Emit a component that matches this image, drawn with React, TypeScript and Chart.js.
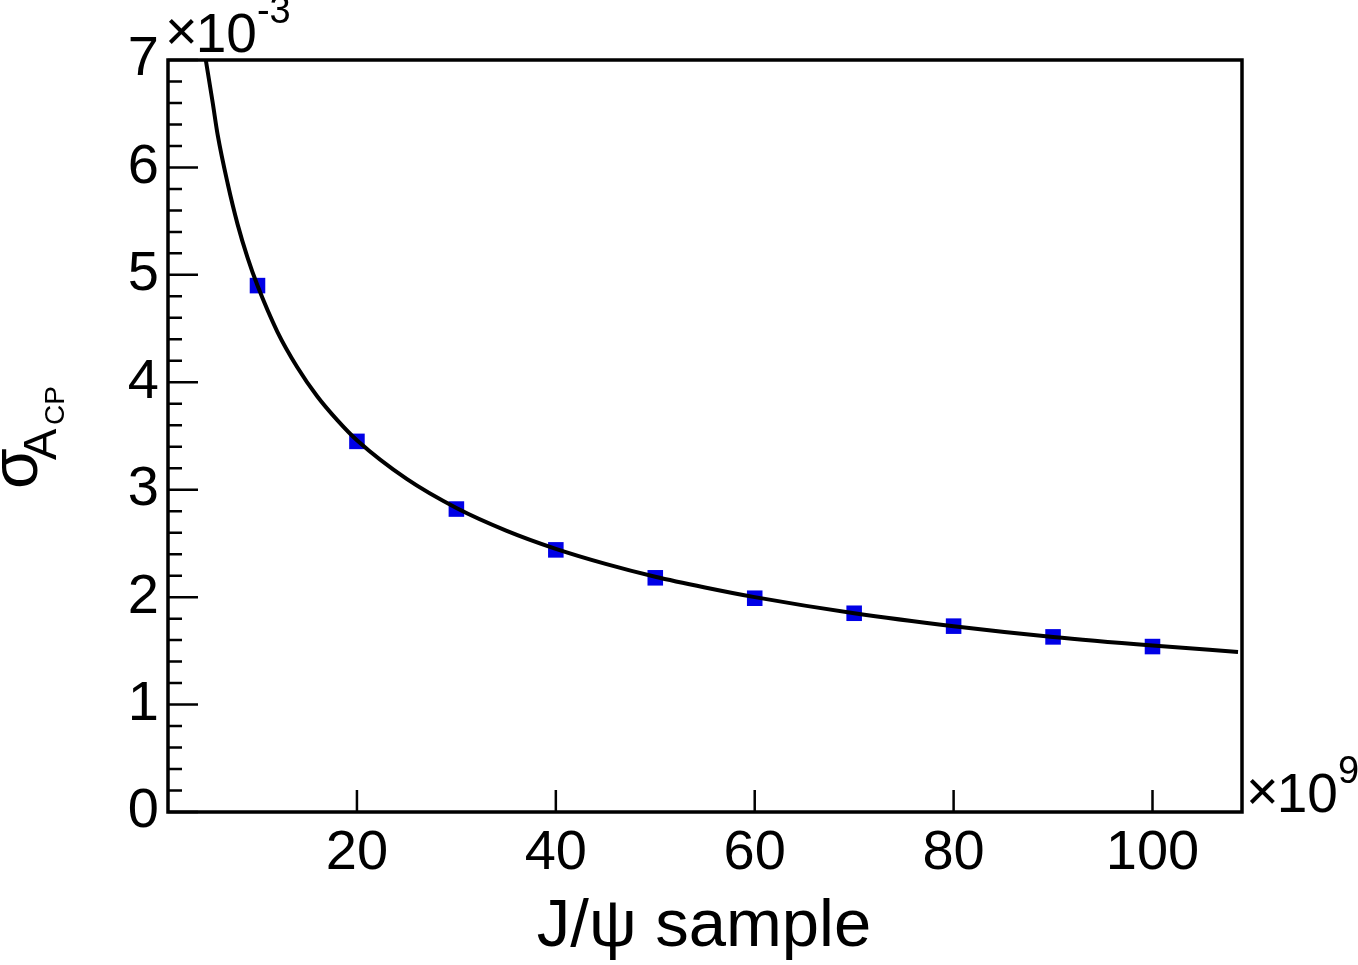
import React, { useEffect, useRef } from 'react';
import { Chart, registerables, Plugin } from 'chart.js';

Chart.register(...registerables);

// measured points (x in units of 10^9 J/psi events, y in units of 10^-3)
const sampleX = [10, 20, 30, 40, 50, 60, 70, 80, 90, 100];
const sigmaY = [4.9, 3.45, 2.82, 2.44, 2.18, 1.99, 1.85, 1.73, 1.63, 1.54];

// fitted curve
const fitX = [4.8, 5.5, 6, 7, 8, 9, 10, 12, 14, 16, 18, 20, 25, 30, 35, 40, 45, 50, 55, 60, 70, 80, 90, 100, 108.6];
const fitY = [7.0, 6.6, 6.3, 5.85, 5.47, 5.16, 4.9, 4.47, 4.14, 3.87, 3.65, 3.46, 3.1, 2.83, 2.62, 2.45, 2.31, 2.19, 2.09, 2.0, 1.85, 1.73, 1.63, 1.55, 1.49];

const xTicks = [20, 40, 60, 80, 100];
const yTicks = [0, 1, 2, 3, 4, 5, 6, 7];

const FONT = '"Liberation Sans", Arial, Helvetica, sans-serif';

// "×10^n" drawn the way ROOT does it
function drawExponent(ctx: CanvasRenderingContext2D, x: number, base: number, exp: string) {
    ctx.font = `56px ${FONT}`;
    ctx.fillText('\u00d7', x, base - 2);
    const wx = ctx.measureText('\u00d7').width;
    ctx.font = `55px ${FONT}`;
    const x10 = x + wx - 2;
    ctx.fillText('10', x10, base);
    const w10 = ctx.measureText('10').width;
    ctx.font = `38px ${FONT}`;
    ctx.fillText(exp, x10 + w10, base - 29);
}

const rootFrame: Plugin = {
    id: 'rootFrame',
    afterDraw(chart) {
        const { ctx, chartArea: a, scales } = chart;
        const xs = scales.x;
        const ys = scales.y;
        ctx.save();
        ctx.strokeStyle = '#000';
        ctx.fillStyle = '#000';

        // inward ticks, ROOT style
        ctx.lineWidth = 2.5;
        ctx.beginPath();
        for (let i = 0; i <= 35; i++) {
            const py = ys.getPixelForValue(i * 0.2);
            const len = i % 5 === 0 ? 30 : 14;
            ctx.moveTo(a.left, py);
            ctx.lineTo(a.left + len, py);
        }
        xTicks.forEach((v) => {
            const px = xs.getPixelForValue(v);
            ctx.moveTo(px, a.bottom);
            ctx.lineTo(px, a.bottom - 22);
        });
        ctx.stroke();

        // frame
        ctx.lineWidth = 3.5;
        ctx.strokeRect(a.left, a.top, a.right - a.left, a.bottom - a.top);

        // exponent labels
        ctx.textAlign = 'left';
        ctx.textBaseline = 'alphabetic';
        drawExponent(ctx, a.left - 3, 52, '-3');
        drawExponent(ctx, a.right + 4, a.bottom, '9');

        // x title
        ctx.font = `67px ${FONT}`;
        ctx.textAlign = 'center';
        ctx.fillText('J/\u03c8 sample', 704, 946);

        // y title: sigma with subscript A_CP, rotated
        ctx.textAlign = 'left';
        const piece = (text: string, size: number, bx: number, by: number) => {
            ctx.save();
            ctx.translate(bx, by);
            ctx.rotate(-Math.PI / 2);
            ctx.font = `${size}px ${FONT}`;
            ctx.fillText(text, 0, 0);
            ctx.restore();
        };
        piece('\u03c3', 66, 37, 489);
        piece('A', 47, 56, 460);
        piece('CP', 28, 64, 425);

        ctx.restore();
    },
};

const App: React.FC = () => {
    const canvasRef = useRef<HTMLCanvasElement>(null);
    const chartRef = useRef<Chart | null>(null);

    useEffect(() => {
        if (!canvasRef.current) return;
        if (chartRef.current) chartRef.current.destroy();

        chartRef.current = new Chart(canvasRef.current, {
            type: 'scatter',
            data: {
                datasets: [
                    {
                        label: 'fit',
                        data: fitX.map((x, i) => ({ x, y: fitY[i] })),
                        showLine: true,
                        borderColor: '#000',
                        borderWidth: 4,
                        pointRadius: 0,
                        cubicInterpolationMode: 'monotone',
                        order: 0,
                    },
                    {
                        label: 'sigma',
                        data: sampleX.map((x, i) => ({ x, y: sigmaY[i] })),
                        pointStyle: 'rect',
                        pointRadius: 11,
                        pointBorderWidth: 0,
                        pointBackgroundColor: '#0000e6',
                        pointBorderColor: '#0000e6',
                        order: 1,
                    },
                ],
            },
            options: {
                animation: false,
                responsive: true,
                maintainAspectRatio: false,
                layout: { padding: { top: 60, right: 116, left: 0, bottom: 0 } },
                plugins: {
                    legend: { display: false },
                    tooltip: { enabled: false },
                },
                scales: {
                    x: {
                        type: 'linear',
                        min: 1,
                        max: 109,
                        grid: { display: false, drawTicks: false },
                        border: { display: false },
                        afterBuildTicks: (s) => {
                            s.ticks = xTicks.map((v) => ({ value: v }));
                        },
                        afterFit: (s) => {
                            s.height = 153;
                        },
                        ticks: {
                            color: '#000',
                            padding: 8,
                            maxRotation: 0,
                            font: { family: FONT, size: 56 },
                        },
                    },
                    y: {
                        type: 'linear',
                        min: 0,
                        max: 7,
                        grid: { display: false, drawTicks: false },
                        border: { display: false },
                        afterBuildTicks: (s) => {
                            s.ticks = yTicks.map((v) => ({ value: v }));
                        },
                        afterFit: (s) => {
                            s.width = 168;
                        },
                        ticks: {
                            color: '#000',
                            padding: 9,
                            font: { family: FONT, size: 56 },
                        },
                    },
                },
            },
            plugins: [rootFrame],
        });

        return () => {
            if (chartRef.current) {
                chartRef.current.destroy();
                chartRef.current = null;
            }
        };
    }, []);

    return (
        <div style={{ position: 'absolute', left: 0, top: 0, width: 1358, height: 965, background: '#fff' }}>
            <canvas ref={canvasRef}></canvas>
        </div>
    );
};

export default App;
